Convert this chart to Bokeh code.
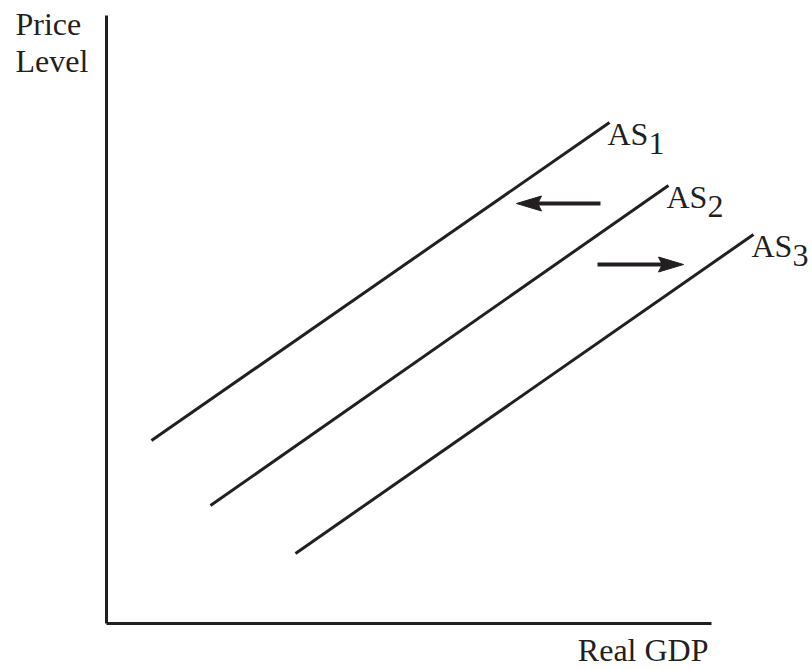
from bokeh.plotting import figure
from bokeh.models import Range1d
from bokeh.core.properties import value
from bokeh.embed import file_html
from bokeh.resources import INLINE

# Aggregate supply curves (real GDP on x, price level on y), each a straight segment
curve_names = ["AS", "AS", "AS"]
curve_subs = ["1", "2", "3"]
curve_x0 = [0.90, 2.08, 3.78]
curve_y0 = [3.66, 2.36, 1.40]
curve_x1 = [10.06, 11.24, 12.94]
curve_y1 = [10.02, 8.76, 7.78]

# Shift arrows: tail -> tip
arrow_x0 = [9.88, 9.82]
arrow_x1 = [8.20, 11.54]
arrow_y = [8.40, 7.18]

# Axis extents
x_axis_end = 12.10
y_axis_end = 12.16

x_label = "Real GDP"
y_label = ["Price", "Level"]

INK = "#231f20"
FONT = value("Liberation Serif")
SIZE = "32px"
LIFT = -12  # baseline correction, px
PX = 50.0  # pixels per data unit

p = figure(width=812, height=669, output_backend="svg", toolbar_location=None,
           x_range=Range1d(-106 / PX, (812 - 106) / PX),
           y_range=Range1d(-(669 - 623) / PX, 623 / PX),
           min_border=0, min_border_left=0, min_border_right=0,
           min_border_top=0, min_border_bottom=0)
p.axis.visible = False
p.grid.visible = False
p.outline_line_color = None
p.background_fill_color = "white"
p.border_fill_color = "white"

# axes drawn as plain lines from the origin
p.segment(x0=[0, 0], y0=[0, 0], x1=[0, x_axis_end], y1=[y_axis_end, 0],
          line_color=INK, line_width=3)

# supply curves
p.segment(x0=curve_x0, y0=curve_y0, x1=curve_x1, y1=curve_y1,
          line_color=INK, line_width=3)

# curve labels with subscripts
lab_x = [x for x in curve_x1]
lab_y = [y - 0.47 for y in curve_y1]
p.text(x=lab_x, y=lab_y, text=curve_names, text_font=FONT, text_font_size=SIZE,
       text_color=INK, text_align="left", text_baseline="alphabetic",
       x_offset=-2, y_offset=LIFT)
p.text(x=lab_x, y=lab_y, text=curve_subs, text_font=FONT, text_font_size=SIZE,
       text_color=INK, text_align="left", text_baseline="alphabetic",
       x_offset=39, y_offset=LIFT + 9)

# arrows: shaft plus a slim filled head built from the tip position
head_len = 25 / PX
head_half = 7.5 / PX
notch = 0.85
p.segment(x0=arrow_x0, y0=arrow_y,
          x1=[t + (head_len * 0.8 if t < s else -head_len * 0.8) for s, t in zip(arrow_x0, arrow_x1)],
          y1=arrow_y, line_color=INK, line_width=4)
xs, ys = [], []
for s, t, y in zip(arrow_x0, arrow_x1, arrow_y):
    d = 1.0 if t > s else -1.0
    back = t - d * head_len
    mid = t - d * head_len * notch
    xs.append([t, back, mid, back])
    ys.append([y, y + head_half, y, y - head_half])
p.patches(xs=xs, ys=ys, fill_color=INK, line_color=INK, line_width=1)

# axis titles
p.text(x=[-91 / PX, -91 / PX], y=[(623 - 35) / PX, (623 - 72) / PX], text=y_label,
       text_font=FONT, text_font_size=SIZE, text_color=INK,
       text_align="left", text_baseline="alphabetic", y_offset=LIFT)
p.text(x=[(708 - 106) / PX], y=[-(665 - 623) / PX], text=[x_label],
       text_font=FONT, text_font_size=SIZE, text_color=INK,
       text_align="right", text_baseline="alphabetic", y_offset=LIFT - 4)

open("out.html", "w").write(file_html(p, INLINE))
